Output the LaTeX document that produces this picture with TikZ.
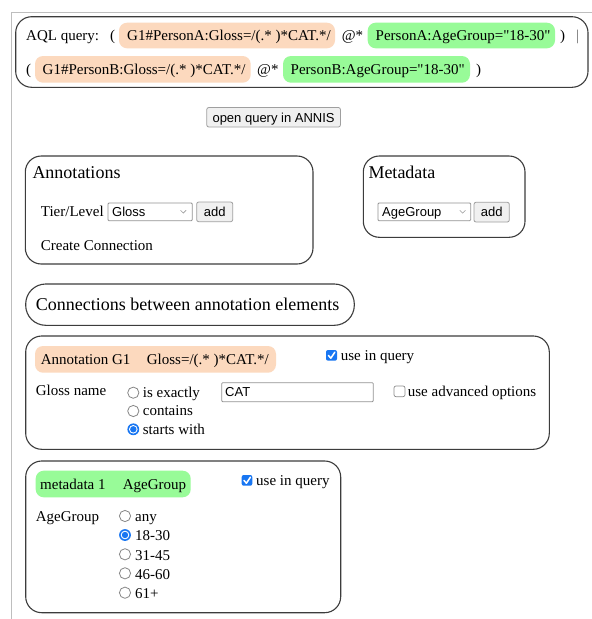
\documentclass[tikz,border=0pt]{standalone}
\usepackage{fontspec}
\setmainfont{Liberation Serif}[Ligatures=TeXOff]
\newfontfamily\sansf{Liberation Sans}
\definecolor{peach}{RGB}{252,217,190}
\definecolor{mint}{RGB}{152,251,152}
\definecolor{tick}{RGB}{24,118,242}
\definecolor{frame}{RGB}{190,190,190}
\definecolor{edge}{RGB}{60,60,60}
\begin{document}
\begin{tikzpicture}[x=1pt, y=-1pt,
  panel/.style={draw=edge, line width=1.1pt, rounded corners=16pt},
  pillA/.style={fill=peach, rounded corners=8pt},
  pillB/.style={fill=mint, rounded corners=8pt},
  txt/.style={anchor=base west, inner sep=0pt, font=\fontsize{15}{18}\selectfont},
  ttl/.style={anchor=base west, inner sep=0pt, font=\fontsize{18}{21}\selectfont},
  stxt/.style={anchor=base west, inner sep=0pt, font=\sansf\fontsize{13}{15}\selectfont},
  ctxt/.style={anchor=base, inner sep=0pt, font=\sansf\fontsize{13}{15}\selectfont},
  btn/.style={draw=gray!75, fill=gray!12, line width=0.8pt, rounded corners=2pt},
  field/.style={draw=gray!85, fill=white, line width=0.8pt, rounded corners=1pt},
  chev/.style={draw=gray!80, line width=0.6pt},
  radio/.style={draw=gray!95, fill=white, line width=0.8pt},
  tickbox/.style={fill=tick, rounded corners=2pt},
  emptybox/.style={draw=gray!90, fill=white, line width=0.7pt, rounded corners=2pt},
  checkmark/.style={draw=white, line width=1.5pt, line cap=round, line join=round}]
\useasboundingbox (0,0) rectangle (592,619);
\fill[white] (0,0) rectangle (592,619);

% page frame
\draw[frame, line width=1pt] (11.7,619) -- (11.7,12.7) -- (592,12.7);

% ---------- AQL query ----------
\draw[panel] (15.7,16.7) rectangle (588,87.3);
\fill[pillA] (119,22.7) rectangle (335,48.3);
\fill[pillB] (367.7,22.7) rectangle (555,48.3);
\fill[pillA] (35,56) rectangle (250.7,82.7);
\fill[pillB] (283,56) rectangle (470,82.7);
\node[txt] (aql) at (26,40.5) {AQL query:};
\node[txt] (op1) at (110,40.5) {(};
\node[txt] (qa1) at (127,40.5) {G1\#PersonA:Gloss=/(.* )*CAT.*/};
\node[txt] (at1) at (341.7,40.5) {@*};
\node[txt] (qa2) at (375.5,40.5) {PersonA:AgeGroup="18-30"};
\node[txt] (cl1) at (560,40.5) {)};
\node[txt, text=gray!80!black] (bar) at (576,40.5) {|};
\node[txt] (op2) at (26,74.3) {(};
\node[txt] (qb1) at (42.5,74.3) {G1\#PersonB:Gloss=/(.* )*CAT.*/};
\node[txt] (at2) at (257,74.3) {@*};
\node[txt] (qb2) at (290.5,74.3) {PersonB:AgeGroup="18-30"};
\node[txt] (cl2) at (476,74.3) {)};

% open button
\draw[btn] (206.8,107.5) rectangle (340.4,127);
\node[ctxt] (open) at (273.6,122) {open query in ANNIS};

% ---------- Annotations ----------
\draw[panel] (25.3,156) rectangle (313,264);
\node[ttl] (annt) at (32.3,178) {Annotations};
\node[txt] (tier) at (40.7,216.7) {Tier/Level};
\draw[field] (108,203) rectangle (192.3,220.7);
\node[stxt] (gsel) at (112,216.3) {Gloss};
\draw[chev] (180.5,210.3) -- (183.3,213.1) -- (186.1,210.3);
\draw[btn] (196.7,202) rectangle (232.7,221.7);
\node[ctxt] (add1) at (214.7,216.5) {add};
\node[txt] (conn) at (40.7,250.3) {Create Connection};

% ---------- Metadata ----------
\draw[panel] (363.3,156) rectangle (525,237.3);
\node[ttl] (meta) at (368.3,178) {Metadata};
\draw[field] (378,203) rectangle (470.7,220.7);
\node[stxt] (msel) at (382,216.3) {AgeGroup};
\draw[chev] (459.8,210.3) -- (462.6,213.1) -- (465.4,210.3);
\draw[btn] (474,202.3) rectangle (509.3,222);
\node[ctxt] (add2) at (491.7,216.7) {add};

% ---------- Connections header ----------
\draw[panel, rounded corners=20pt] (25.7,284) rectangle (354.3,325.3);
\node[ttl] (cbt) at (35.7,310.3) {Connections between annotation elements};

% ---------- Annotation G1 ----------
\draw[panel] (25.7,336) rectangle (549.3,449.3);
\fill[pillA] (35,346) rectangle (276,372.7);
\node[txt] (ag1) at (40.7,364) {Annotation G1};
\node[txt] (ag2) at (146.7,364) {Gloss=/(.* )*CAT.*/};
\fill[tickbox] (326,350) rectangle (337,360.7);
\draw[checkmark] (328.4,355.4) -- (330.8,358.2) -- (334.8,352.2);
\node[txt] (use1) at (340.7,360.7) {use in query};
\node[txt] (gname) at (35.7,395.3) {Gloss name};
\draw[radio] (133.3,392.7) circle (5.6);
\draw[radio] (133.3,411) circle (5.6);
\fill[tick] (133.3,429.3) circle (5.9);
\fill[white] (133.3,429.3) circle (4.3);
\fill[tick] (133.3,429.3) circle (3.2);
\node[txt] (r1) at (142.7,397.3) {is exactly};
\node[txt] (r2) at (142.7,415.6) {contains};
\node[txt] (r3) at (142.7,434) {starts with};
\draw[field] (221.7,382.7) rectangle (373.3,401.7);
\node[stxt] (cat) at (225,396.8) {CAT};
\draw[emptybox] (394,386) rectangle (405,396.7);
\node[txt] (adv) at (407.7,396.7) {use advanced options};

% ---------- metadata 1 ----------
\draw[panel] (25.7,461) rectangle (340.7,612.7);
\fill[pillB] (35.7,470.7) rectangle (190.7,497.3);
\node[txt] (md1) at (40,489) {metadata 1};
\node[txt] (md2) at (122.7,489) {AgeGroup};
\fill[tickbox] (241.7,475) rectangle (252.3,485.7);
\draw[checkmark] (244,480.4) -- (246.4,483.2) -- (250.4,477.2);
\node[txt] (use2) at (256,485.7) {use in query};
\node[txt] (agl) at (35.7,521.7) {AgeGroup};
\draw[radio] (125,516) circle (5.6);
\fill[tick] (125,535) circle (5.9);
\fill[white] (125,535) circle (4.3);
\fill[tick] (125,535) circle (3.2);
\draw[radio] (125,554.3) circle (5.6);
\draw[radio] (125,573.3) circle (5.6);
\draw[radio] (125,592.7) circle (5.6);
\node[txt] (o1) at (135,521.7) {any};
\node[txt] (o2) at (135,540.8) {18-30};
\node[txt] (o3) at (135,560) {31-45};
\node[txt] (o4) at (135,579) {46-60};
\node[txt] (o5) at (135,598.3) {61+};
\end{tikzpicture}
\end{document}
